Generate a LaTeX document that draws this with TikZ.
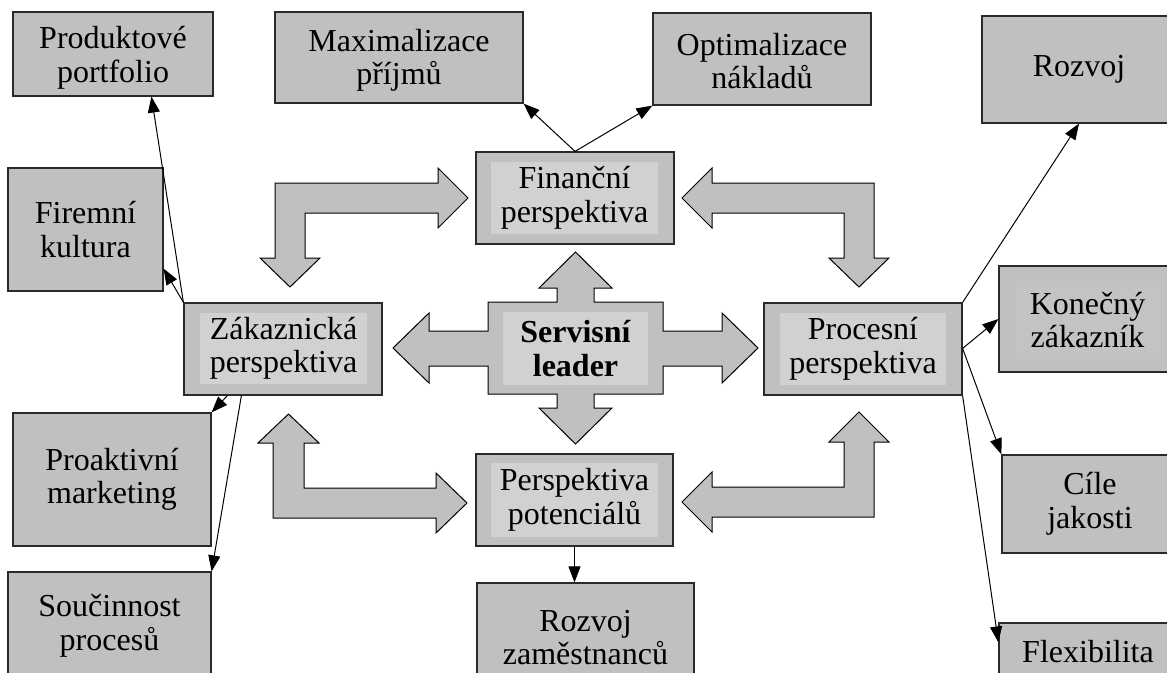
\documentclass[tikz,border=0pt]{standalone}
\usepackage{fontspec}
\setmainfont{Liberation Serif}
\usetikzlibrary{arrows.meta,calc}
\definecolor{boxgray}{HTML}{C0C0C0}
\definecolor{innergray}{HTML}{D2D0D1}
\definecolor{faintgray}{HTML}{C3C3C3}
\definecolor{edgegray}{HTML}{2A2A2A}
\tikzset{
  x=1pt, y=-1pt,
  lbl/.style={font=\fontsize{32}{33.5}\selectfont, align=center, text=black},
  box/.style={lbl, draw=edgegray, fill=boxgray, line width=1.2pt, inner sep=0pt},
  innerbox/.style={lbl, fill=innergray, inner sep=0pt},
  blockarrow/.style={draw=black, fill=boxgray, line width=1pt, line join=miter},
  link/.style={draw=black, line width=1pt, -{Triangle[length=16pt,width=12pt]}},
}
\begin{document}
\begin{tikzpicture}
\useasboundingbox (0,0) rectangle (1167,672);
\fill[white] (0,0) rectangle (1167,672);
\clip (0,0) rectangle (1167,672);

% ---- outer ring of goal boxes ----
\node[box, minimum width=200pt, minimum height=84pt]  (prod) at (113,54)     {};
\node[lbl, inner sep=0pt] (prod-t) at ([yshift=-4pt]prod.center) {Produktové\\portfolio};
\node[box, minimum width=248pt, minimum height=91pt]  (max)  at (399,57.5)   {};
\node[lbl, inner sep=0pt] (max-t) at ([yshift=-3pt]max.center) {Maximalizace\\příjmů};
\node[box, minimum width=218pt, minimum height=92pt]  (opt)  at (762,59)     {};
\node[lbl, inner sep=0pt] (opt-t) at ([yshift=-2pt]opt.center) {Optimalizace\\nákladů};
\node[box, minimum width=194pt, minimum height=107pt] (roz)  at (1079,69.5)  {Rozvoj};
\node[box, minimum width=155pt, minimum height=123pt] (fir)  at (85.5,229.5) {Firemní\\kultura};
\node[box, minimum width=198pt, minimum height=133pt] (pro)  at (112,479.5)  {Proaktivní\\marketing};
\node[box, minimum width=203pt, minimum height=108pt] (sou)  at (109.5,626)  {Součinnost\\procesů};
\node[box, minimum width=217pt, minimum height=109pt] (rzm)  at (585.5,637.5) {Rozvoj\\zaměstnanců};
\node[box, minimum width=176pt, minimum height=98pt]  (cil)  at (1090,504)   {Cíle\\jakosti};
\node[box, minimum width=178pt, minimum height=57pt]  (flx)  at (1088,651.5) {Flexibilita};
\node[box, minimum width=174pt, minimum height=106pt] (kon)  at (1086,319)   {};
\node[lbl, fill=faintgray, inner sep=0pt, minimum width=145pt, minimum height=78pt] (kon-in) at (1087.5,320) {Konečný\\zákazník};

% ---- the four perspectives ----
\node[box, minimum width=198pt, minimum height=92pt] (fin)  at (575,198) {};
\node[innerbox, minimum width=167pt, minimum height=72pt] (fin-in) at (574.5,198) {Finanční\\perspektiva};
\node[box, minimum width=198pt, minimum height=92pt] (zak)  at (283,349) {};
\node[innerbox, minimum width=167pt, minimum height=71pt] (zak-in) at (283.5,348.5) {Zákaznická\\perspektiva};
\node[box, minimum width=198pt, minimum height=92pt] (proc) at (863,349) {};
\node[innerbox, minimum width=166pt, minimum height=72pt] (proc-in) at (863,349) {Procesní\\perspektiva};
\node[box, minimum width=197pt, minimum height=92pt] (pot)  at (574.5,500) {};
\node[innerbox, minimum width=167pt, minimum height=74pt] (pot-in) at (574.5,500) {Perspektiva\\potenciálů};

% ---- central four-way block arrow ----
\draw[blockarrow] (488,302) -- (557,302) -- (557,288) -- (539,288) -- (575.5,252)
  -- (612,288) -- (594,288) -- (594,302) -- (663,302) -- (663,331) -- (722,331)
  -- (722,313) -- (758,348) -- (722,383) -- (722,366) -- (663,366) -- (663,394)
  -- (594,394) -- (594,408) -- (612,408) -- (575.5,444) -- (539,408) -- (557,408)
  -- (557,394) -- (488,394) -- (488,366) -- (429,366) -- (429,383) -- (393,348)
  -- (429,313) -- (429,331) -- (488,331) -- cycle;
\node[innerbox, font=\fontsize{32}{33.5}\selectfont\bfseries, minimum width=145pt, minimum height=73pt] (leader) at (575.5,348.5) {Servisní\\leader};

% ---- elbow block arrows between neighbouring perspectives ----
\draw[blockarrow] (275,183) -- (438,183) -- (438,168) -- (468,198) -- (438,228)
  -- (438,213) -- (305,213) -- (305,258) -- (320,258) -- (290,287) -- (260,258)
  -- (275,258) -- cycle;
\draw[blockarrow] (874,183) -- (712,183) -- (712,168) -- (682,198) -- (712,228)
  -- (712,213) -- (844,213) -- (844,258) -- (829,258) -- (859,287) -- (889,258)
  -- (874,258) -- cycle;
\draw[blockarrow] (273,518) -- (273,443) -- (258,443) -- (288.5,414) -- (319,443)
  -- (304,443) -- (304,488) -- (436,488) -- (436,473) -- (467,503) -- (436,533)
  -- (436,518) -- cycle;
\draw[blockarrow] (874,517) -- (874,442) -- (889,442) -- (859,412) -- (829,442)
  -- (844,442) -- (844,487) -- (712,487) -- (712,472) -- (682,502) -- (712,532)
  -- (712,517) -- cycle;

% ---- thin connectors ----
\draw[link] (fin.north) -- (max.south east);
\draw[link] (fin.north) -- (opt.south west);
\draw[link] (zak.north west) -- ($(prod.south west)+(139,0)$);
\draw[link] (zak.north west) -- ($(fir.south east)+(0,-23)$);
\draw[link] ($(zak.south west)+(44,0)$) -- (pro.north east);
\draw[link] ($(zak.south west)+(58,0)$) -- (sou.north east);
\draw[link] (proc.north east) -- (roz.south);
\draw[link] ($(proc.north east)+(0,46)$) -- (kon.west);
\draw[link] ($(proc.north east)+(0,46)$) -- (cil.north west);
\draw[link] (proc.south east) -- ($(flx.north west)+(0,20)$);
\draw[link] (pot.south) -- (pot.south |- rzm.north);
\end{tikzpicture}
\end{document}
